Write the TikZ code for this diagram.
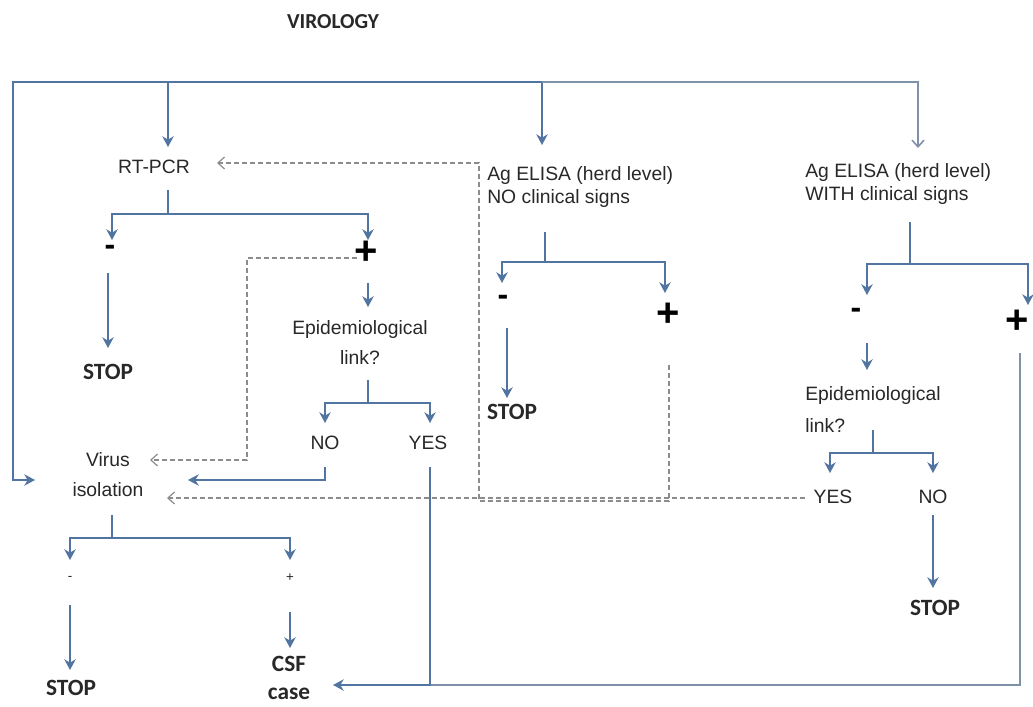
\documentclass[tikz,border=0pt]{standalone}
\usepackage{fontspec}
\setmainfont{Liberation Sans}
\newfontfamily\calfont{Carlito}
\usetikzlibrary{arrows.meta}
\definecolor{lnblue}{RGB}{82,116,160}
\definecolor{lnlight}{RGB}{128,146,170}
\definecolor{dgray}{RGB}{140,140,140}
\definecolor{txt}{RGB}{40,40,40}
\begin{document}
\begin{tikzpicture}[x=0.75pt,y=-0.75pt,
  lbl/.style={text=txt, inner sep=0pt, align=center, font=\fontsize{14.5}{22.5}\selectfont},
  elisa/.style={text=txt, inner sep=0pt, align=left, anchor=west, font=\fontsize{14.5}{17.25}\selectfont},
  stoplbl/.style={text=txt, inner sep=0pt, align=center, font=\calfont\bfseries\fontsize{17.5}{20.5}\selectfont},
  titlelbl/.style={text=txt, inner sep=0pt, font=\calfont\bfseries\fontsize{16}{18}\selectfont},
  sign/.style={text=black, inner sep=0pt, font=\bfseries\fontsize{30}{30}\selectfont},
  minus/.style={text=black, inner sep=0pt, font=\bfseries\fontsize{24}{24}\selectfont},
  smallsign/.style={text=txt, inner sep=0pt, font=\fontsize{10}{10}\selectfont},
  conn/.style={draw=lnblue, line width=2pt},
  arr/.style={conn, -{Stealth[length=8pt,width=8.5pt,inset=2.5pt]}},
  medconn/.style={draw=lnlight, line width=1.5pt},
  thinarr/.style={draw=lnlight, line width=1.2pt, -{Straight Barb[length=5pt,width=9pt,line width=1.2pt]}},
  darr/.style={draw=dgray, line width=0.9pt, dash pattern=on 3.5pt off 2.5pt,
    -{Straight Barb[length=5pt,width=9pt,line width=0.9pt]}}
]
\useasboundingbox (0,0) rectangle (1033,707);

% ---------- text nodes ----------
\node[titlelbl] (viro) at (333,22) {VIROLOGY};
\node[lbl] (rt) at (154,167) {RT-PCR};
\node[elisa] (en) at (487,186.5) {Ag ELISA (herd level)\\NO clinical signs};
\node[elisa] (ew) at (805,184) {Ag ELISA (herd level)\\WITH clinical signs};
\node[minus] (rtm) at (110,250) {-};
\node[sign] (rtp) at (366,253) {+};
\node[stoplbl] (stop1) at (108,372) {STOP};
\node[lbl] (epi1) at (360,342) {Epidemiological\\link?};
\node[lbl] (no1) at (325,443) {NO};
\node[lbl] (yes1) at (428,443) {YES};
\node[lbl] (iso) at (108,475) {Virus\\isolation};
\node[smallsign] (isom) at (70,578) {-};
\node[smallsign] (isop) at (290,578) {+};
\node[stoplbl] (stop4) at (71,688) {STOP};
\node[stoplbl] (csf) at (289,678) {CSF\\case};
\node[minus] (enm) at (503,300) {-};
\node[sign] (enp) at (668,315) {+};
\node[stoplbl] (stop2) at (512,412) {STOP};
\node[minus] (ewm) at (856,313) {-};
\node[sign] (ewp) at (1017,322) {+};
\node[elisa, font=\fontsize{14.5}{24}\selectfont] (epi2) at (805,409) {Epidemiological\\link?};
\node[lbl] (yes2) at (833,497) {YES};
\node[lbl] (no2) at (933,497) {NO};
\node[stoplbl] (stop3) at (935,608) {STOP};

% ---------- coordinates ----------
\coordinate (tl) at (13,82);
\coordinate (tRT) at (168,82);
\coordinate (tEN) at (542,82);
\coordinate (tEW) at (918,82);
\coordinate (rtIn) at (168,147);
\coordinate (enIn) at (542,145);
\coordinate (ewIn) at (918,148);
\coordinate (isoIn) at (35,480);
\coordinate (rtOut) at (168,190);
\coordinate (rtJ) at (168,214);
\coordinate (rtmIn) at (112,240);
\coordinate (rtpIn) at (368,240);
\coordinate (rtmOut) at (108,273);
\coordinate (stop1In) at (108,348);
\coordinate (rtpOut) at (368,283);
\coordinate (epi1In) at (368,307);
\coordinate (epi1Out) at (368,380);
\coordinate (epi1J) at (368,403);
\coordinate (no1In) at (325,423);
\coordinate (yes1In) at (430,423);
\coordinate (no1Out) at (325,467);
\coordinate (isoIn2) at (188,480);
\coordinate (yes1Out) at (430,467);
\coordinate (yes1J) at (430,685);
\coordinate (csfIn) at (333,685);
\coordinate (isoOut) at (112,515);
\coordinate (isoJ) at (112,538);
\coordinate (isomIn) at (70,560);
\coordinate (isopIn) at (290,560);
\coordinate (isomOut) at (70,605);
\coordinate (stop4In) at (70,670);
\coordinate (isopOut) at (290,612);
\coordinate (csfIn2) at (290,648);
\coordinate (enOut) at (545,232);
\coordinate (enJ) at (545,262);
\coordinate (enmIn) at (502,283);
\coordinate (enpIn) at (665,293);
\coordinate (enmOut) at (507,328);
\coordinate (stop2In) at (507,398);
\coordinate (ewOut) at (910,222);
\coordinate (ewJ) at (910,264);
\coordinate (ewmIn) at (867,295);
\coordinate (ewpIn) at (1028,305);
\coordinate (ewmOut) at (867,343);
\coordinate (epi2In) at (867,370);
\coordinate (epi2Out) at (873,430);
\coordinate (epi2J) at (873,453);
\coordinate (yes2In) at (830,473);
\coordinate (no2In) at (933,473);
\coordinate (no2Out) at (933,515);
\coordinate (stop3In) at (933,588);
\coordinate (ewpOut) at (1020,353);
\coordinate (br) at (1020,685);
% dashed
\coordinate (rtpD) at (357,258);
\coordinate (dv) at (247,460);
\coordinate (virIn) at (150,460);
\coordinate (enpD) at (669,365);
\coordinate (dB) at (479,501);
\coordinate (dT) at (479,163);
\coordinate (rtInD) at (217,163);
\coordinate (yes2D) at (805,498);
\coordinate (isoInD) at (167,498);

% ---------- solid connectors ----------
\draw[arr] (tEN) -- (tl) |- (isoIn);
\draw[arr] (tRT) -- (rtIn);
\draw[arr] (tEN) -- (enIn);
\draw[thinarr] (tEN) -- (tEW) -- (ewIn);

\draw[arr] (rtOut) -- (rtJ) -| (rtmIn);
\draw[arr] (rtJ) -| (rtpIn);
\draw[arr] (rtmOut) -- (stop1In);
\draw[arr] (rtpOut) -- (epi1In);
\draw[arr] (epi1Out) -- (epi1J) -| (no1In);
\draw[arr] (epi1J) -| (yes1In);
\draw[arr] (no1Out) |- (isoIn2);

\draw[medconn] (ewpOut) -- (br) -- (yes1J);
\draw[arr] (yes1Out) -- (yes1J) -- (csfIn);

\draw[arr] (isoOut) -- (isoJ) -| (isomIn);
\draw[arr] (isoJ) -| (isopIn);
\draw[arr] (isomOut) -- (stop4In);
\draw[arr] (isopOut) -- (csfIn2);

\draw[arr] (enOut) -- (enJ) -| (enmIn);
\draw[arr] (enJ) -| (enpIn);
\draw[arr] (enmOut) -- (stop2In);

\draw[arr] (ewOut) -- (ewJ) -| (ewmIn);
\draw[arr] (ewJ) -| (ewpIn);
\draw[arr] (ewmOut) -- (epi2In);
\draw[arr] (epi2Out) -- (epi2J) -| (yes2In);
\draw[arr] (epi2J) -| (no2In);
\draw[arr] (no2Out) -- (stop3In);

% ---------- dashed connectors ----------
\draw[darr] (rtpD) -| (dv) -- (virIn);
\draw[darr] (enpD) |- (dB) -- (dT) -- (rtInD);
\draw[darr] (yes2D) -- (isoInD);
\end{tikzpicture}
\end{document}
